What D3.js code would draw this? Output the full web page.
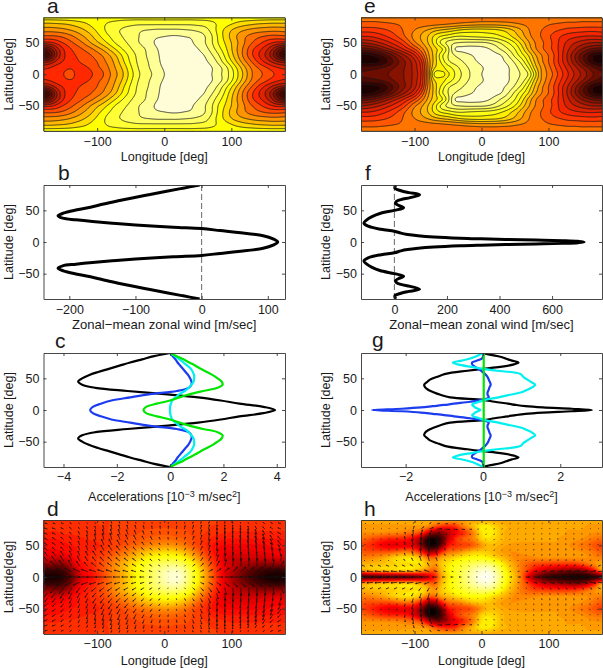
<!DOCTYPE html>
<html>
<head>
<meta charset="utf-8">
<script src="https://cdn.jsdelivr.net/npm/d3@7"></script>
<style>
body { margin: 0; background: #fff; }
text { font-family: "Liberation Sans", Arial, sans-serif; fill: #1a1a1a; }
</style>
</head>
<body>
<div id="chart"></div>
<script>
var lonTicks = [-100, 0, 100];
var latTicks = [-50, 0, 50];

// contour fields, rows are lat 0,10..90 (south is the mirror),
// columns are lon -180,-170..180. numbers are "how many contours away from the centre"
var fieldA = [
  [9.7,9.6,9.5,9,8.4,9.35,9.4,9.2,8.6,8,7,6,4.9,3.5,2.3,1.6,1.1,.5,0,-.2,-.5,-.6,-.6,-.5,-.3,-.05,.6,1.4,2.5,4,5.4,6.9,7.6,8.2,8.75,9.3,9.7],
  [10.2,9.9,9.5,9.3,9.1,9.3,9.2,8.9,8.2,7.7,6.7,5.7,4.6,3.2,2.1,1.4,.9,.3,-.1,-.4,-.5,-.6,-.6,-.5,-.4,-.1,.5,1.4,2.8,4.3,5.8,7.1,8,8.7,9.4,9.9,10.2],
  [12.5,11.8,10.6,9.9,9.5,9.1,8.8,8.4,8,7.2,6.4,5.3,4,2.8,1.9,1.3,.8,.2,-.3,-.5,-.6,-.6,-.6,-.4,-.2,.3,1.2,2.5,3.9,5.4,6.8,8,9.2,10.2,11.1,12,12.5],
  [16.5,15,12,10.2,9.4,8.9,8.5,8.1,7.5,6.8,5.9,4.8,3.6,2.6,1.8,1.2,.6,.1,-.3,-.5,-.6,-.6,-.5,-.3,0,.8,1.8,3.1,4.6,6,7.5,8.8,9.9,11,12.5,14.8,16.5],
  [14.5,13.5,11.5,10,9.1,8.5,7.9,7.3,6.5,5.7,4.7,3.7,2.8,2.1,1.5,1.1,.5,0,-.3,-.4,-.5,-.5,-.3,-.05,.5,1.4,2.5,3.6,4.9,6.2,7.4,8.7,9.6,10.5,11.8,13.5,14.5],
  [10.3,10.2,9.6,8.9,8.3,7.6,6.9,6,5.2,4.4,3.5,2.7,2.2,1.7,1.1,.7,.2,-.2,-.3,-.4,-.4,-.3,-.1,.3,.9,1.8,3,4,5,6,7,7.9,8.6,9.3,9.9,10.3,10.3],
  [8.2,8.2,8.1,7.8,7.3,6.7,6,5.3,4.4,3.6,2.9,2.3,1.9,1.5,1.1,.7,.3,.1,0,-.1,-.1,0,.1,.4,.9,1.8,3.1,4.3,5.3,6.2,6.9,7.4,7.8,8.1,8.3,8.3,8.2],
  [6.6,6.6,6.5,6.3,6,5.6,5.1,4.5,3.8,3.1,2.5,2.1,1.8,1.5,1.2,1,.9,.8,.8,.8,.8,.9,1,1.2,1.5,2.3,3.3,4.2,5,5.6,6,6.3,6.5,6.6,6.7,6.7,6.6],
  [5.2,5.2,5.1,5,4.8,4.5,4.2,3.8,3.4,3.1,2.8,2.6,2.4,2.3,2.2,2.2,2.2,2.2,2.2,2.2,2.2,2.2,2.2,2.3,2.4,2.7,3.1,3.5,3.9,4.3,4.6,4.8,5,5.1,5.2,5.2,5.2],
  [3.4,3.4,3.4,3.4,3.4,3.4,3.4,3.4,3.4,3.4,3.4,3.4,3.4,3.4,3.4,3.4,3.4,3.4,3.4,3.4,3.4,3.4,3.4,3.4,3.4,3.4,3.4,3.4,3.4,3.4,3.4,3.4,3.4,3.4,3.4,3.4,3.4]
];

var fieldE = [
  [16.8,16.7,16.5,16.3,16,15.6,15.2,14.6,13.6,12,8,3.5,3.6,4.2,3,2,1.2,.5,0,-.3,-.5,-.4,-.1,.7,1.1,2,4.5,7.2,8.2,9.5,10.8,12,13.2,14.2,15.3,16.2,16.8],
  [17.6,17.5,17.3,17,16.5,15.9,15.3,14.6,13.5,11.8,8,5,4.5,3.6,2.6,1.7,1,.6,.1,-.2,-.5,-.5,-.1,.7,1.5,3,5.5,7.2,8.6,9.9,11.2,12.5,13.7,14.8,16,17,17.6],
  [19.6,19.6,19.4,19,18,16.8,15.6,14.6,13.3,11.4,7.8,5.5,3.8,2.2,1.5,1.1,.6,.1,-.2,-.4,-.5,-.2,.3,1.2,2.4,4.2,6.2,7.8,9,10.3,11.8,13.2,14.8,16.4,18,19.2,19.6],
  [19.5,19.3,18.8,18,17,15.8,14.6,13.5,12.2,10,7.3,5.5,3.3,2,1,.6,.2,-.1,-.3,-.4,-.3,0,1,2.3,3.6,5,6.8,8,9,10.2,11.8,13.4,15,16.6,18,19.2,19.5],
  [16.5,16.3,15.8,15,14.1,13.2,12.3,11.2,10,8.5,6.8,5.4,4.4,2.4,-.1,-.3,-.4,-.4,-.3,-.1,.4,1.2,2,3,4.5,6.3,7.8,8.8,9.6,10.5,11.7,12.9,14,15,15.8,16.3,16.5],
  [14,13.8,13.4,12.9,12.3,11.6,10.8,9.6,8.2,7.2,6,4.5,2.6,1.6,1.1,.9,.8,.8,.8,1,1.5,2.2,3,4,5.4,6.8,8,8.8,9.5,10.5,11.5,12.4,13,13.5,13.9,14.1,14],
  [12,12,11.8,11.4,10.9,10.3,9.5,8.6,7.6,6.9,6,4.7,3.9,3.5,3.05,2.95,3.1,3.2,3.3,3.4,3.6,4,4.6,5.5,6.5,7.6,8.5,9.1,9.8,10.5,11.1,11.5,11.8,12,12.1,12.1,12],
  [10.6,10.6,10.5,10.3,10,9.6,9.1,8.6,8,7.4,6.9,6.3,5.9,5.6,5.2,4.8,4.6,4.5,4.5,4.6,4.7,5,5.5,6.2,7,7.9,8.6,9,9.4,9.8,10.1,10.4,10.5,10.6,10.7,10.7,10.6],
  [9.3,9.3,9.3,9.2,9.1,9,8.9,8.8,8.7,8.6,8.5,8.4,8.3,8.15,8,7.85,7.7,7.6,7.5,7.5,7.5,7.6,7.7,7.9,8.1,8.3,8.5,8.7,8.9,9,9.1,9.2,9.2,9.3,9.3,9.3,9.3],
  [8.6,8.6,8.6,8.6,8.6,8.6,8.6,8.6,8.6,8.6,8.6,8.6,8.6,8.6,8.6,8.6,8.6,8.6,8.6,8.6,8.6,8.6,8.6,8.6,8.6,8.6,8.6,8.6,8.6,8.6,8.6,8.6,8.6,8.6,8.6,8.6,8.6]
];

// colour fields for d and h, 0 is black and 1 is white on the hot scale
var fieldD = [
  [.03,.03,.03,.06,.12,.25,.34,.37,.42,.47,.53,.58,.62,.68,.73,.78,.83,.88,.93,.97,.98,.92,.82,.72,.62,.52,.42,.33,.26,.2,.14,.1,.07,.04,.03,.02,.03],
  [.08,.08,.08,.1,.17,.3,.38,.4,.44,.49,.54,.59,.63,.69,.74,.78,.83,.87,.91,.94,.94,.89,.8,.71,.61,.51,.42,.34,.28,.22,.17,.13,.1,.08,.07,.06,.08],
  [.22,.2,.17,.2,.27,.36,.4,.42,.45,.49,.54,.59,.63,.68,.72,.76,.8,.83,.85,.87,.86,.82,.75,.66,.57,.48,.4,.34,.3,.27,.25,.23,.21,.2,.2,.2,.22],
  [.33,.32,.3,.32,.36,.39,.41,.43,.45,.47,.51,.55,.58,.62,.66,.7,.73,.75,.76,.76,.75,.72,.66,.59,.51,.44,.38,.33,.31,.3,.3,.3,.3,.31,.32,.33,.33],
  [.37,.37,.37,.38,.39,.4,.41,.42,.43,.45,.47,.5,.53,.56,.6,.63,.65,.67,.68,.68,.66,.63,.58,.52,.46,.41,.37,.35,.34,.34,.34,.34,.35,.35,.36,.37,.37],
  [.38,.38,.38,.39,.4,.4,.41,.41,.42,.43,.45,.46,.48,.5,.52,.54,.56,.57,.58,.58,.56,.54,.5,.46,.43,.4,.38,.37,.37,.37,.37,.37,.37,.37,.38,.38,.38],
  [.4,.4,.4,.41,.41,.42,.42,.43,.43,.44,.45,.46,.47,.48,.49,.5,.51,.52,.52,.52,.51,.5,.48,.46,.44,.42,.41,.4,.4,.4,.4,.4,.4,.4,.4,.4,.4],
  [.42,.42,.42,.43,.43,.43,.44,.44,.44,.45,.45,.46,.46,.47,.47,.48,.48,.49,.49,.49,.48,.48,.47,.46,.45,.44,.43,.43,.42,.42,.42,.42,.42,.42,.42,.42,.42],
  [.44,.44,.44,.44,.44,.44,.44,.44,.45,.45,.45,.46,.46,.46,.47,.47,.47,.47,.47,.47,.47,.47,.47,.46,.46,.45,.45,.44,.44,.44,.44,.44,.44,.44,.44,.44,.44],
  [.45,.45,.45,.45,.45,.45,.45,.45,.45,.45,.45,.45,.45,.45,.45,.45,.45,.45,.45,.45,.45,.45,.45,.45,.45,.45,.45,.45,.45,.45,.45,.45,.45,.45,.45,.45,.45]
];

var fieldH = [
  [.08,.08,.08,.1,.12,.12,.12,.14,.17,.22,.32,.42,.62,.72,.78,.84,.9,.95,1,1,.96,.85,.74,.66,.55,.35,.2,.12,.07,.05,.04,.03,.03,.03,.03,.05,.08],
  [.62,.64,.66,.67,.68,.69,.7,.7,.68,.62,.56,.52,.66,.74,.79,.83,.88,.93,.96,.97,.92,.82,.72,.64,.56,.47,.38,.32,.27,.25,.22,.2,.18,.2,.28,.42,.62],
  [.64,.65,.66,.67,.68,.69,.7,.71,.72,.72,.66,.6,.68,.73,.77,.8,.83,.86,.88,.88,.84,.76,.68,.62,.56,.52,.48,.47,.46,.45,.45,.45,.46,.5,.55,.6,.64],
  [.58,.58,.6,.62,.66,.7,.72,.73,.72,.66,.56,.55,.64,.67,.71,.74,.76,.77,.77,.75,.71,.67,.63,.59,.58,.58,.59,.6,.6,.6,.6,.6,.6,.6,.6,.58,.58],
  [.52,.5,.5,.5,.5,.52,.55,.56,.52,.42,.25,.25,.42,.54,.56,.6,.65,.68,.69,.68,.65,.62,.6,.6,.61,.62,.62,.62,.62,.62,.62,.62,.61,.6,.58,.55,.52],
  [.48,.46,.42,.38,.35,.34,.35,.35,.33,.2,.05,.03,.15,.4,.44,.47,.48,.53,.6,.66,.66,.64,.62,.62,.62,.62,.62,.62,.62,.62,.62,.6,.58,.56,.54,.5,.48],
  [.55,.52,.49,.46,.44,.43,.43,.41,.34,.22,.04,.03,.1,.3,.44,.52,.56,.6,.7,.72,.7,.66,.64,.63,.63,.63,.63,.63,.63,.63,.62,.62,.61,.6,.58,.56,.55],
  [.6,.6,.6,.6,.59,.59,.58,.56,.54,.48,.32,.2,.2,.28,.36,.42,.5,.6,.72,.74,.72,.66,.64,.64,.64,.64,.64,.64,.63,.63,.63,.62,.62,.62,.61,.6,.6],
  [.62,.62,.62,.62,.62,.62,.62,.62,.62,.62,.6,.52,.46,.44,.45,.55,.62,.68,.74,.74,.7,.66,.65,.64,.64,.64,.64,.63,.63,.63,.63,.63,.63,.63,.62,.62,.62],
  [.63,.63,.63,.63,.63,.63,.63,.63,.63,.63,.63,.63,.63,.63,.63,.63,.63,.63,.63,.63,.63,.63,.63,.63,.63,.63,.63,.63,.63,.63,.63,.63,.63,.63,.63,.63,.63]
];

// wind tables for the quivers, rows are lat 0,15..90, columns lon -180,-160..180
var windDU = [
  [-11,-11,-10,-9,-8,-7,-6,-5,-3,-1,.5,2,4,6,8,10,11,11,11],
  [-5,-5,-3,-3,-4,-4,-4,-3.5,-2.5,-1,.5,2,3,2.5,1,.5,.5,1,4],
  [-2,-3,-2,-1.5,-3,-3.5,-3.5,-3,-2,-1,.5,1.5,2,1,0,-.5,-.5,-1,-1.5],
  [-3,-3,-2,-1,-2,-3,-3,-2.5,-2,-1,.5,1.5,1.5,.5,0,-1,-1.5,-2,-3],
  [-3,-3,-2,-1,-1,-1.5,-2,-2,-1.5,-.5,.5,1.5,1,.5,0,-.5,-1.5,-2.5,-3],
  [-3,-3,-2,-1,-1,-1,-1,-1,-.5,0,.5,1,1,.5,0,-.5,-1.5,-2.5,-3],
  [-2,-2,-1.5,-1,-1,-.5,-.5,0,0,0,0,.5,.5,.5,0,-.5,-1,-1.5,-2]
];
var windDV = [
  [0,0,0,0,0,0,0,0,0,0,0,0,0,0,0,0,0,0,0],
  [4,5,6,4,3,3,2,2,1.5,1,1,1.5,3,5,7,7,7,6,4],
  [3,4,5,4,4,4,3,2.5,2,1.5,1.5,2,3.5,6,8,9,9,8,6],
  [2,2.5,3,4,5,5,4,3,2,1.5,1.5,2.5,4,7,9,9.5,9,7,4],
  [1.5,2,2.5,4,5.5,6,5,4,3,2,2,3,5,7,8,7.5,6,4,2],
  [1,1,1.5,2,3,4,4,3.5,3,3,3,3.5,4,4,4,3,2.5,2,1],
  [.5,.5,.5,.5,.5,.5,.5,.5,.5,.5,.5,.5,.5,.5,.5,.5,.5,.5,.5]
];
var windHU = [
  [-10,-10,-10,-10,-10,-9,-3,-2.5,-2,-1,1,2,3,6,8,9,10,10,10],
  [-3,-3,-3,-3,-3,-2,-1,-1,-1,-.5,.5,1,1,1.5,1.5,1.5,1.5,2,3],
  [0,0,0,-.5,-1,-1.5,-1,-.5,-.5,-.5,.5,.5,.5,.5,0,0,0,0,0],
  [0,0,0,-.5,-1.5,0,-1,-.5,-.5,-.5,.5,.5,.5,0,0,0,0,0,0],
  [0,0,0,-.5,-1,1,-1,-1,-1,-.5,.5,.5,0,0,0,0,0,0,0],
  [0,0,0,0,1,4,5,4,2.5,1,.5,0,0,0,0,0,0,0,0],
  [.3,.3,.3,.3,.3,.3,.3,.3,.3,.3,.3,.3,.3,.3,.3,.3,.3,.3,.3]
];
var windHV = [
  [0,0,0,0,0,0,0,0,0,0,0,0,0,0,0,0,0,0,0],
  [1,1,1,1,1.5,3,1,.8,.5,.3,.3,.5,1,1.5,1.5,1.5,1.5,1.5,1],
  [1,1,1,1.5,4,9,2,1,.6,.5,.5,.8,1,1.5,2,2,2,1.5,1],
  [1,1,1,2,6,10,3,1,.5,.5,.5,.8,1,1.5,2,2,2,1.5,1],
  [1,1,1,2,6,7,2,.5,.5,.5,.5,.8,1,1.5,1.5,1.5,1.5,1,1],
  [.8,.8,.8,1,3,2,-.5,-.5,-.3,.2,.5,.5,.8,1,1,1,1,.8,.8],
  [.5,.5,.5,.5,.5,.5,.5,.5,.5,.5,.5,.5,.5,.5,.5,.5,.5,.5,.5]
];

// line panels, north half only, south is the mirror
var latB = [0,5,10,15,18,21.2,23.3,27,29.6,32.3,35,37.6,41.3,45.5,50.8,55,60,65,70,75,80,85,90];
var windB = [115,108,93,55,28,0,-43,-100,-135,-165,-190,-210,-217,-209,-188,-168,-148,-126,-103,-78,-53,-28,-3];

var latF = [0,1,2,3,4,5,6,8,10,12,14,17,20,25,30,35,40,45,50,54,58,61,64,67,70,74.6,78,81,85,90];
var windF = [722,700,640,540,430,330,250,150,90,50,25,0,-50,-100,-116,-105,-85,-55,0,35,15,4,8,25,60,96,55,25,2,5];

var latC = [0,5,10,15,20,25,30,35,40,45,50,55,60,65,70,75,80,85,90];
var blackC = [3.94,3.5,2.6,1.9,1.05,-.2,-1.6,-2.8,-3.3,-3.45,-3.3,-3.05,-2.7,-2.3,-1.9,-1.5,-1.05,-.6,0];
var blueC = [-3,-2.9,-2.6,-2.2,-1.5,-.75,.25,.7,.8,.8,.75,.68,.58,.48,.38,.28,.2,.1,0];
var greenC = [-1,-.9,-.5,0,.35,.75,1.25,1.78,1.97,1.93,1.78,1.6,1.38,1.15,.95,.72,.5,.25,0];
var cyanC = [0,0,.03,.08,.2,.35,.55,.7,.8,.88,.9,.9,.85,.78,.65,.5,.35,.18,0];

var latG = [0,2,4,6,8,10,13,16,20,24,28,32,36,40,44,48,52,57,62,65,68,72,75,78,81,84,87,90];
var blackG = [2.82,2.3,1.55,1.1,.85,.65,.3,0,-.85,-1.1,-1.28,-1.42,-1.5,-1.52,-1.45,-1.37,-1.2,-.97,-.4,0,.45,.8,.92,.75,.6,.45,.2,0];
var blueG = [-2.87,-2.1,-1.6,-1.3,-1,-.75,-.33,-.03,.15,.12,.12,.15,.17,.2,.18,.15,.12,.05,-.05,-.12,-.2,-.28,-.28,-.15,-.03,0,0,0];
var cyanG = [-.07,-.13,-.2,-.24,-.28,-.25,-.1,.05,.4,.7,1,1.15,1.28,1.35,1.25,1.15,1.05,.97,.36,0,-.3,-.65,-.78,-.55,-.35,-.2,-.1,0];
var greenG = [.02,.02,.02,.02,.02,.02,.02,.02,.02,.02,.02,.02,.02,.02,.02,.02,.02,.02,.02,.02,.02,.02,.02,.02,.02,.02,.02,.02];

var width = 603, height = 668;
var leftX = [43.5, 285];
var rightX = [361, 602];
var rowA = [17.5, 131], rowB = [185, 299], rowC = [353, 467], rowD = [520, 634];

var svg = d3.select('#chart').append('svg')
  .attr('width', width)
  .attr('height', height);

var clipCount = 0;

function Panel(xr, yr, xdom, xticks) {
  var p = this;
  p.x = d3.scaleLinear().domain(xdom).range(xr);
  p.y = d3.scaleLinear().domain([-90, 90]).range([yr[1], yr[0]]);
  p.xticks = xticks;
  clipCount++;
  p.clipId = 'clip' + clipCount;
  svg.append('clipPath').attr('id', p.clipId).append('rect')
    .attr('x', xr[0]).attr('y', yr[0])
    .attr('width', xr[1] - xr[0]).attr('height', yr[1] - yr[0]);
  p.g = svg.append('g').attr('clip-path', 'url(#' + p.clipId + ')');
}

Panel.prototype.frame = function (tickBase, labelBase, ylabel) {
  var p = this;
  var xr = p.x.range(), yr = p.y.range();
  var intFmt = d3.format('d');

  function styled(g) {
    g.selectAll('path,line').attr('stroke', '#333').attr('stroke-width', 0.9);
    g.selectAll('text').attr('font-size', 12.5).attr('fill', '#1a1a1a').attr('font-family', '"Liberation Sans", Arial, sans-serif');
  }
  var bottom = svg.append('g').attr('transform', 'translate(0,' + yr[0] + ')')
    .call(d3.axisBottom(p.x).tickValues(p.xticks).tickFormat(intFmt).tickSizeInner(-3).tickSizeOuter(0).tickPadding(0));
  bottom.call(styled);
  bottom.selectAll('text').attr('y', tickBase - yr[0]).attr('dy', 0);
  svg.append('g').attr('transform', 'translate(0,' + yr[1] + ')')
    .call(d3.axisTop(p.x).tickValues(p.xticks).tickSizeInner(-3).tickSizeOuter(0).tickFormat(''))
    .call(styled);
  svg.append('g').attr('transform', 'translate(' + xr[0] + ',0)')
    .call(d3.axisLeft(p.y).tickValues(latTicks).tickFormat(intFmt).tickSizeInner(-3).tickSizeOuter(0).tickPadding(4))
    .call(styled);
  svg.append('g').attr('transform', 'translate(' + xr[1] + ',0)')
    .call(d3.axisRight(p.y).tickValues(latTicks).tickSizeInner(-3).tickSizeOuter(0).tickFormat(''))
    .call(styled);

  var cy = (yr[0] + yr[1]) / 2;
  svg.append('text')
    .attr('transform', 'translate(' + (xr[0] - 31) + ',' + cy + ') rotate(-90)')
    .attr('text-anchor', 'middle')
    .attr('font-size', 12.5)
    .text(ylabel);
  p.labelBase = labelBase;
  p.xmid = (xr[0] + xr[1]) / 2;
  return p;
};

Panel.prototype.xlabel = function (label, size) {
  return svg.append('text')
    .attr('x', this.xmid)
    .attr('y', this.labelBase)
    .attr('text-anchor', 'middle')
    .attr('font-size', size || 12.6)
    .text(label);
};

function letter(s, x, y) {
  svg.append('text').attr('x', x).attr('y', y).attr('font-size', 21).text(s);
}

// catmull-rom between the values we read, only so contours come out round
function cubic(a, b, c, d, t) {
  return 0.5 * (2 * b + (c - a) * t + (2 * a - 5 * b + 4 * c - d) * t * t + (3 * b - a - 3 * c + d) * t * t * t);
}

function fieldAt(rows, lon, lat) {
  var fi = Math.abs(lat) / 10, fj = (lon + 180) / 10;
  var i = Math.min(Math.floor(fi), 8), j = Math.min(Math.floor(fj), 35);
  var vals = [];
  for (var r = -1; r <= 2; r++) {
    var row = rows[Math.min(Math.abs(i + r), 9)];
    vals.push(cubic(
      row[Math.max(j - 1, 0)], row[j], row[j + 1], row[Math.min(j + 2, 36)], fj - j));
  }
  return cubic(vals[0], vals[1], vals[2], vals[3], fi - i);
}

function drawField(p, rows, thresholds, color, lined, blur) {
  var step = 1;
  var lons = d3.range(-180, 180 + step, step);
  var lats = d3.range(-90, 90 + step, step);
  var values = [];
  lats.forEach(function (lat) {
    lons.forEach(function (lon) {
      values.push(fieldAt(rows, lon, lat));
    });
  });
  // takes the grid corners off the hand read values
  d3.blur2({data: values, width: lons.length, height: lats.length}, blur);
  var contours = d3.contours().size([lons.length, lats.length]).thresholds(thresholds)(values);
  var path = d3.geoPath(d3.geoTransform({
    point: function (x, y) {
      this.stream.point(p.x(-180 + (x - 0.5) * step), p.y(-90 + (y - 0.5) * step));
    }
  }));
  // base colour under the lowest band
  p.g.append('rect')
    .attr('x', p.x.range()[0]).attr('y', p.y.range()[1])
    .attr('width', p.x.range()[1] - p.x.range()[0])
    .attr('height', p.y.range()[0] - p.y.range()[1])
    .attr('fill', color(thresholds[0] - 0.5));
  p.g.selectAll('path.band').data(contours).enter().append('path')
    .attr('class', 'band')
    .attr('d', path)
    .attr('fill', function (d) { return color(d.value + (lined ? 0.5 : 0)); })
    .attr('stroke', lined ? '#1a1a1a' : 'none')
    .attr('stroke-width', lined ? 0.8 : 0);
}

function windAt(table, lon, lat) {
  var fi = Math.abs(lat) / 15, fj = (lon + 180) / 20;
  var i = Math.min(Math.floor(fi), 5), j = Math.min(Math.floor(fj), 17);
  var ti = fi - i, tj = fj - j;
  return (table[i][j] * (1 - tj) + table[i][j + 1] * tj) * (1 - ti) +
    (table[i + 1][j] * (1 - tj) + table[i + 1][j + 1] * tj) * ti;
}

function drawQuiver(p, tu, tv, k) {
  var lons = d3.range(-174, 180, 12);
  var lats = d3.range(-84, 85, 8.4);
  var ctx = d3.path();
  lats.forEach(function (lat) {
    lons.forEach(function (lon) {
      var u = windAt(tu, lon, lat) * k;
      var v = windAt(tv, lon, lat) * k * (lat < 0 ? -1 : 1);
      var x0 = p.x(lon), y0 = p.y(lat);
      var x1 = x0 + u, y1 = y0 - v;
      var len = Math.sqrt(u * u + v * v);
      ctx.moveTo(x0, y0);
      ctx.lineTo(x1 + (len < 0.8 ? 0.8 : 0), y1);
      if (len > 2) {
        var a = Math.atan2(y1 - y0, x1 - x0), h = Math.min(len * 0.25, 1.4);
        ctx.moveTo(x1 - h * Math.cos(a - 0.35), y1 - h * Math.sin(a - 0.35));
        ctx.lineTo(x1, y1);
        ctx.lineTo(x1 - h * Math.cos(a + 0.35), y1 - h * Math.sin(a + 0.35));
      }
    });
  });
  p.g.append('path')
    .attr('d', ctx.toString())
    .attr('fill', 'none')
    .attr('stroke', '#111')
    .attr('stroke-width', 0.75);
}

function drawProfile(p, lats, vals, color, w) {
  var pts = [];
  for (var i = lats.length - 1; i > 0; i--) pts.push([vals[i], -lats[i]]);
  for (i = 0; i < lats.length; i++) pts.push([vals[i], lats[i]]);
  var line = d3.line()
    .x(function (d) { return p.x(d[0]); })
    .y(function (d) { return p.y(d[1]); })
    .curve(d3.curveCatmullRom);
  p.g.append('path')
    .attr('d', line(pts))
    .attr('fill', 'none')
    .attr('stroke', color)
    .attr('stroke-width', w)
    .attr('stroke-linejoin', 'round');
}

function zeroLine(p) {
  p.g.append('line')
    .attr('x1', p.x(0)).attr('x2', p.x(0))
    .attr('y1', p.y(-90)).attr('y2', p.y(90))
    .attr('stroke', '#444')
    .attr('stroke-width', 0.8)
    .attr('stroke-dasharray', '6,3');
}

function accelLabel(p) {
  var t = p.xlabel('Accelerations [10');
  t.append('tspan').attr('dy', -4).attr('font-size', 9).text('\u22123');
  t.append('tspan').attr('dy', 4).text(' m/sec');
  t.append('tspan').attr('dy', -4).attr('font-size', 9).text('2');
  t.append('tspan').attr('dy', 4).text(']');
}

var colorA = d3.scaleLinear().domain([-0.5, 0.5, 3.5, 9.5, 16.5])
  .range(['#fffcd8', '#ffff98', '#ffff00', '#ff2800', '#2a0000']);
var colorE = d3.scaleLinear().domain([-0.5, 0.5, 4, 11, 19])
  .range(['#fffcd8', '#ffff98', '#ffff00', '#ff2800', '#2a0000']);
var hotD = d3.scaleLinear().domain([0, 0.36, 0.72, 1])
  .range(['#0a0000', '#ff0000', '#ffff00', '#ffffff']);
var hotH = d3.scaleLinear().domain([0, 0.375, 0.75, 1])
  .range(['#0a0000', '#ff0000', '#ffff00', '#ffffff']);

// panel a
var a = new Panel(leftX, rowA, [-180, 180], lonTicks);
drawField(a, fieldA, d3.range(0, 18), colorA, true, 2);
a.frame(146, 161, 'Latitude[deg]').xlabel('Longitude [deg]');
letter('a', 47, 13);

// panel e
var e = new Panel(rightX, rowA, [-180, 180], lonTicks);
drawField(e, fieldE, d3.range(0, 21), colorE, true, 1.5);
e.frame(146, 161, 'Latitude[deg]').xlabel('Longitude [deg]');
letter('e', 364, 13);

// panel b
var b = new Panel(leftX, rowB, [-239, 126], [-200, -100, 0, 100]);
zeroLine(b);
drawProfile(b, latB, windB, '#000', 3);
b.frame(314, 329, 'Latitude [deg]').xlabel('Zonal\u2212mean zonal wind [m/sec]', 13.1);
letter('b', 58, 180);

// panel f
var f = new Panel(rightX, rowB, [-127, 790], [0, 200, 400, 600]);
zeroLine(f);
drawProfile(f, latF, windF, '#000', 3);
f.frame(314, 329, 'Latitude [deg]').xlabel('Zonal\u2212mean zonal wind [m/sec]', 13.1);
letter('f', 365, 180);

// panel c
var c = new Panel(leftX, rowC, [-4.75, 4.31], [-4, -2, 0, 2, 4]);
drawProfile(c, latC, blackC, '#000', 2.2);
drawProfile(c, latC, blueC, '#1c3cf0', 2.2);
drawProfile(c, latC, cyanC, '#00f0f0', 2.2);
drawProfile(c, latC, greenC, '#00e600', 2.2);
c.frame(481, 501, 'Latitude [deg]');
accelLabel(c);
letter('c', 55, 348);

// panel g
var g = new Panel(rightX, rowC, [-3.155, 3.08], [-2, 0, 2]);
drawProfile(g, latG, blackG, '#000', 2.2);
drawProfile(g, latG, blueG, '#1c3cf0', 2.2);
drawProfile(g, latG, cyanG, '#00f0f0', 2.2);
drawProfile(g, latG, greenG, '#00e600', 2.2);
g.frame(481, 501, 'Latitude [deg]');
accelLabel(g);
letter('g', 372, 347);

// panel d
var d = new Panel(leftX, rowD, [-180, 180], lonTicks);
drawField(d, fieldD, d3.range(0, 1.02, 0.025), hotD, false, 3);
drawQuiver(d, windDU, windDV, 1.1);
d.frame(648, 665, 'Latitude[deg]').xlabel('Longitude [deg]');
letter('d', 47, 516);

// panel h
var h = new Panel(rightX, rowD, [-180, 180], lonTicks);
drawField(h, fieldH, d3.range(0, 1.02, 0.025), hotH, false, 1.5);
drawQuiver(h, windHU, windHV, 1);
h.frame(648, 665, 'Latitude[deg]').xlabel('Longitude [deg]');
letter('h', 364, 516);
</script>
</body>
</html>
